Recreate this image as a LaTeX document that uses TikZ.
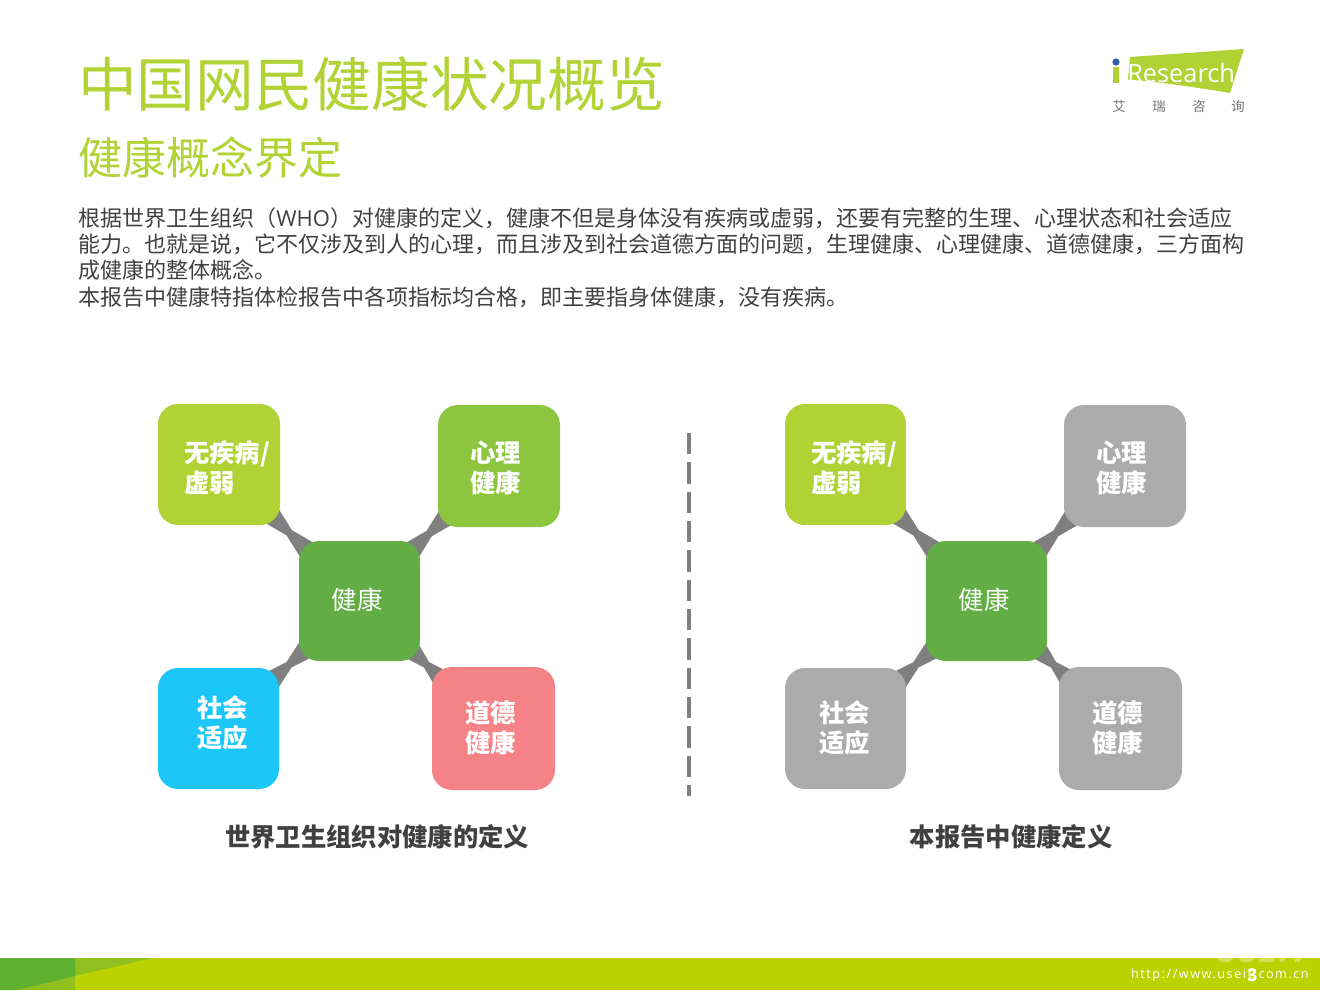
\documentclass[tikz,border=0pt]{standalone}
\usepackage{fontspec}
\setmainfont{Noto Sans CJK SC}
\newfontfamily\latinlight{Open Sans}
\usetikzlibrary{calc,backgrounds}
\definecolor{titlegreen}{HTML}{B2D235}
\definecolor{bodygray}{HTML}{404040}
\definecolor{cA}{HTML}{B0D235}
\definecolor{cB}{HTML}{8CC63F}
\definecolor{cC}{HTML}{62AE45}
\definecolor{cD}{HTML}{1CC7F7}
\definecolor{cE}{HTML}{F48287}
\definecolor{cG}{HTML}{ABABAB}
\definecolor{conn}{HTML}{7F7F7F}
\definecolor{barlime}{HTML}{BCD100}
\definecolor{barmid}{HTML}{8FC01F}
\definecolor{bardark}{HTML}{5FB130}
\definecolor{logoblue}{HTML}{2F5FA8}
\tikzset{
  box/.style={draw=none,rounded corners=15pt,inner sep=0pt},
  boxt/.style={text=white,font=\fontsize{19pt}{22.5pt}\selectfont\bfseries,align=left,inner sep=0pt},
  hubt/.style={text=white,font=\fontsize{19pt}{22.5pt}\selectfont,inner sep=0pt},
  bodyline/.style={anchor=west,inner sep=0pt,text=bodygray,font=\fontsize{16.5pt}{19pt}\selectfont},
  caption/.style={inner sep=0pt,text=bodygray,font=\fontsize{19pt}{22pt}\selectfont\bfseries},
  logochar/.style={inner sep=0pt,text=black!55,font=\fontsize{10pt}{12pt}\selectfont}
}
\newcommand{\mkbox}[6]{% name x1 y1 x2 y2 colour
  \node[box,fill=#6,minimum width={(#4-#2)*.75pt},minimum height={(#5-#3)*.75pt}] (#1) at ({(#2+#4)/2},{(#3+#5)/2}) {};}
\newcommand{\taper}[2]{%
  \fill[conn] ($(#1)!45pt!13:(#2)$) -- ($(#1)!.5!(#2)!2.8pt!90:(#2)$) -- ($(#2)!45pt!-13:(#1)$)
    -- ($(#2)!45pt!13:(#1)$) -- ($(#1)!.5!(#2)!2.8pt!-90:(#2)$) -- ($(#1)!45pt!-13:(#2)$) -- cycle;}
\begin{document}
\begin{tikzpicture}[x=.75pt,y=-.75pt]
\useasboundingbox (0,0) rectangle (1320,990);
% titles
\node[anchor=west,inner sep=0pt,text=titlegreen,font=\fontsize{44pt}{50pt}\selectfont] (title) at (78,84) {中国网民健康状况概览};
\node[anchor=west,inner sep=0pt,text=titlegreen,font=\fontsize{33pt}{38pt}\selectfont] (subtitle) at (78,158) {健康概念界定};
% body
\node[bodyline] (l1) at (78,218) {根据世界卫生组织（{\latinlight WHO}）对健康的定义，健康不但是身体没有疾病或虚弱，还要有完整的生理、心理状态和社会适应};
\node[bodyline] (l2) at (78,244) {能力。也就是说，它不仅涉及到人的心理，而且涉及到社会道德方面的问题，生理健康、心理健康、道德健康，三方面构};
\node[bodyline] (l3) at (78,270) {成健康的整体概念。};
\node[bodyline] (l4) at (78,297) {本报告中健康特指体检报告中各项指标均合格，即主要指身体健康，没有疾病。};
% logo
\fill[cA] (1130,57) -- (1244,49) -- (1230,93) .. controls (1200,88) and (1160,82) .. (1128,79.5) -- cycle;
\fill[cA] (1113,67) rectangle (1119,83);
\fill[logoblue] (1116,62) circle (3.6);
\node[anchor=west,inner sep=0pt,text=white,font=\latinlight\fontsize{19pt}{22pt}\selectfont] (logotext) at (1127,73) {Research};
\node[logochar] (lg1) at (1119,106) {艾};
\node[logochar] (lg2) at (1159,106) {瑞};
\node[logochar] (lg3) at (1199,106) {咨};
\node[logochar] (lg4) at (1238,106) {询};
% left boxes
\mkbox{a1}{158}{404}{280}{525}{cA}
\mkbox{a2}{438}{405}{560}{527}{cB}
\mkbox{a3}{158}{668}{279}{789}{cD}
\mkbox{a4}{432}{667}{555}{790}{cE}
\mkbox{ah}{299}{541}{420}{661}{cC}
% right boxes
\mkbox{b1}{785}{404}{906}{525}{cA}
\mkbox{b2}{1064}{405}{1186}{527}{cG}
\mkbox{b3}{785}{668}{906}{789}{cG}
\mkbox{b4}{1059}{667}{1182}{790}{cG}
\mkbox{bh}{926}{541}{1047}{661}{cC}
% connectors
\begin{pgfonlayer}{background}
\taper{a1}{ah}\taper{a2}{ah}\taper{a3}{ah}\taper{a4}{ah}
\taper{b1}{bh}\taper{b2}{bh}\taper{b3}{bh}\taper{b4}{bh}
\end{pgfonlayer}
% texts
\node[boxt,anchor=west] (ta1) at (184,468) {无疾病/\\虚弱};
\node[boxt,anchor=west] (ta2) at (470,468) {心理\\健康};
\node[boxt,anchor=west] (ta3) at (197,723) {社会\\适应};
\node[boxt,anchor=west] (ta4) at (465,728) {道德\\健康};
\node[hubt] (tah) at (357,600) {健康};
\node[boxt,anchor=west] (tb1) at (811,468) {无疾病/\\虚弱};
\node[boxt,anchor=west] (tb2) at (1096,468) {心理\\健康};
\node[boxt,anchor=west] (tb3) at (819,728) {社会\\适应};
\node[boxt,anchor=west] (tb4) at (1092,728) {道德\\健康};
\node[hubt] (tbh) at (984,600) {健康};
% divider
\coordinate (dtop) at (689,433);
\coordinate (dbot) at (689,796);
\draw[conn,line width=2.3pt,dash pattern=on 16pt off 6pt] (dtop) -- (dbot);
% captions
\node[caption] (capl) at (377,837) {世界卫生组织对健康的定义};
\node[caption] (capr) at (1011,837) {本报告中健康定义};
% footer
\fill[barlime] (0,958) rectangle (1320,990);
\fill[barmid] (0,958) rectangle (75,990);
\fill[barmid] (75,958) -- (152,958) -- (75,976) -- cycle;
\fill[bardark] (0,958) -- (75,958) -- (75,976) -- (17,990) -- (0,990) -- cycle;
\node[inner sep=0pt,text=white,opacity=.35,font=\latinlight\fontsize{27pt}{30pt}\selectfont\bfseries\itshape] (wm) at (1262,950) {USEIT};
\node[anchor=east,inner sep=0pt,text=white,font=\latinlight\fontsize{9.5pt}{11pt}\selectfont\addfontfeatures{LetterSpace=12}] (url) at (1309,975) {http://www.useit.com.cn};
\node[inner sep=0pt,text=white,font=\fontsize{13pt}{15pt}\selectfont\bfseries] (pg) at (1253,975) {3};
\end{tikzpicture}
\end{document}
